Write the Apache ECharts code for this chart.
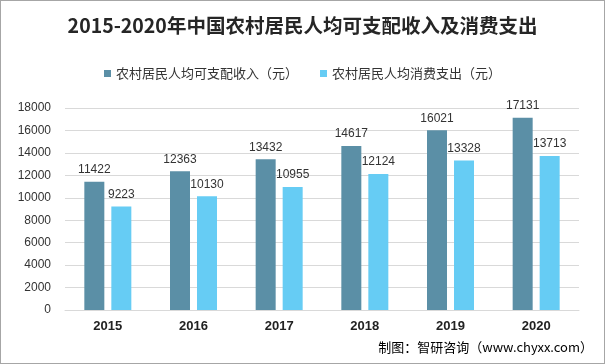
<!DOCTYPE html>
<html><head><meta charset="utf-8">
<script src="https://cdn.jsdelivr.net/npm/echarts@6/dist/echarts.min.js"></script>
<style>html,body{margin:0;padding:0;background:#fff}#c{width:605px;height:364px;box-sizing:border-box;border:1px solid #a6a6a6}</style>
</head><body><div id="c"></div>
<script>
const categories = ['2015','2016','2017','2018','2019','2020'];
const income = [11422,12363,13432,14617,16021,17131];
const consumption = [9223,10130,10955,12124,13328,13713];
const yTicks = {min:0,max:18000,interval:2000};
const seriesNames = ['农村居民人均可支配收入（元）','农村居民人均消费支出（元）'];
const chart = echarts.init(document.getElementById('c'));
chart.setOption({
  animation:false,
  title:[{text:'2015-2020年中国农村居民人均可支配收入及消费支出',left:'center',top:10,
    textStyle:{fontSize:19.5,fontWeight:'bold',color:'#262626',fontFamily:'"Noto Sans CJK SC", sans-serif'}},
    {text:'制图：智研咨询（www.chyxx.com）',right:6,bottom:4,
    textStyle:{fontSize:13,fontWeight:'normal',color:'#000',fontFamily:'"Noto Sans CJK SC", sans-serif'}}],
  legend:{top:61,left:'center',itemWidth:7,itemHeight:7,itemGap:22,icon:'rect',
    textStyle:{fontSize:13,color:'#333',fontFamily:'"Noto Sans CJK SC", sans-serif'}},
  grid:{left:64,right:25,top:107,bottom:53},
  xAxis:{type:'category',data:categories,axisTick:{show:false},
    axisLine:{lineStyle:{color:'#d9d9d9'}},
    axisLabel:{fontSize:13,fontWeight:'bold',color:'#222',margin:10,fontFamily:'Liberation Sans, sans-serif'}},
  yAxis:{type:'value',min:yTicks.min,max:yTicks.max,interval:yTicks.interval,
    axisLine:{show:false},axisTick:{show:false},
    splitLine:{lineStyle:{color:'#d9d9d9'}},
    axisLabel:{fontSize:12,color:'#333',margin:14,formatter:v=>String(v),fontFamily:'Liberation Sans, sans-serif'}},
  series:[
    {name:seriesNames[0],type:'bar',data:income,barWidth:20,barGap:'35%',
     itemStyle:{color:'#5B8FA6'},
     label:{show:true,position:'top',distance:6,fontSize:12,color:'#333',fontFamily:'Liberation Sans, sans-serif'}},
    {name:seriesNames[1],type:'bar',data:consumption,barWidth:20,
     itemStyle:{color:'#66CCF4'},
     label:{show:true,position:'top',distance:6,fontSize:12,color:'#333',fontFamily:'Liberation Sans, sans-serif'}}
  ]
});
</script></body></html>
